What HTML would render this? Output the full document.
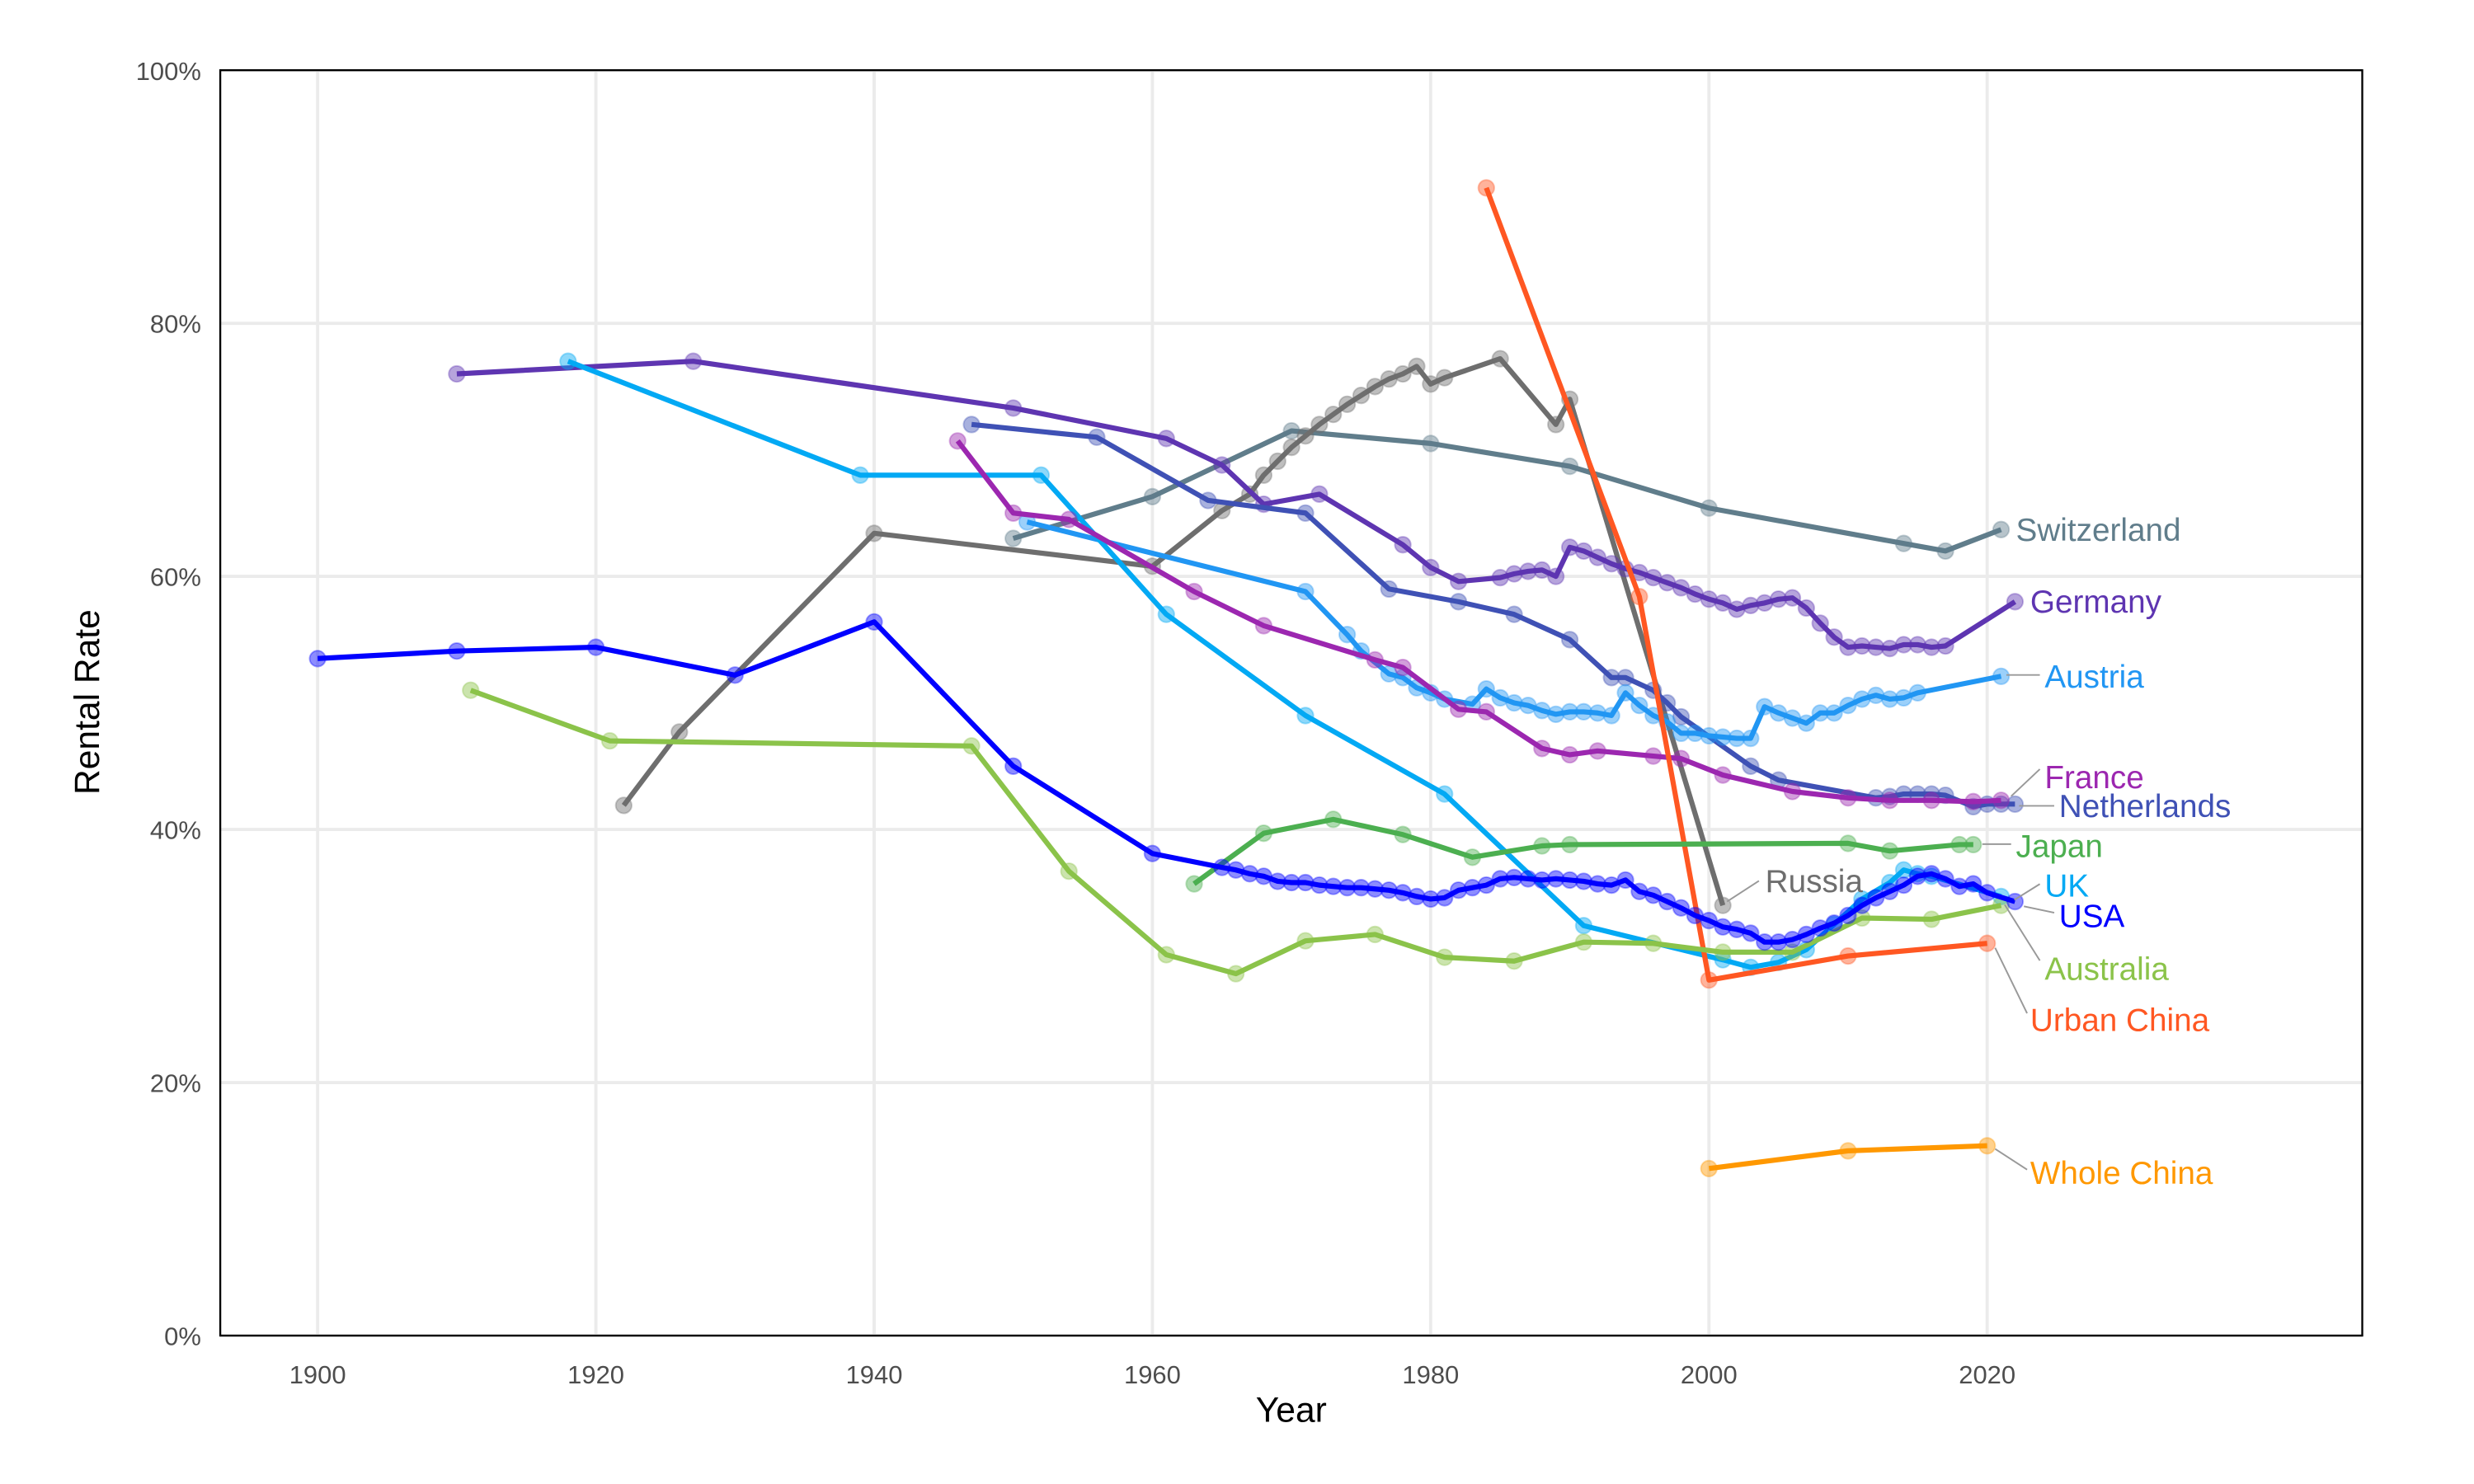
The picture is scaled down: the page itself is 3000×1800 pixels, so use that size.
<!DOCTYPE html>
<html><head><meta charset="utf-8"><style>
html,body{margin:0;padding:0;background:#fff}
svg{display:block;font-family:"Liberation Sans",Arial,sans-serif}
</style></head><body>
<svg id="chart" width="3000" height="1800" viewBox="0 0 1550 930" xmlns="http://www.w3.org/2000/svg">
<g id="grid"></g>
<g id="series"></g>
<rect x="138" y="44" width="1342" height="793" fill="none" stroke="#000" stroke-width="1.2"/>
<g id="axes"></g>
<text x="809" y="891" font-size="22" text-anchor="middle" fill="#000">Year</text>
<text transform="translate(62,440) rotate(-90)" font-size="22" text-anchor="middle" fill="#000">Rental Rate</text>
<g id="labels"></g>
</svg>
<script>
const xTicks=[1900,1920,1940,1960,1980,2000,2020];
const yTicks=[0,20,40,60,80,100];
const names=["Switzerland","Russia","Germany","Netherlands","Austria","UK","France","Urban China","Japan","Australia","USA","Whole China"];
const colors={"Switzerland":"#607d8b","Russia":"#6e6e6e","Germany":"#5e35b1","Netherlands":"#3f51b5","Austria":"#2196f3","UK":"#03a9f4","France":"#9c27b0","Urban China":"#ff5722","Japan":"#4caf50","Australia":"#8bc34a","USA":"#0000ff","Whole China":"#ff9800"};
const usaYears=[1900,1910,1920,1930,1940,1950,1960,1965,1966,1967,1968,1969,1970,1971,1972,1973,1974,1975,1976,1977,1978,1979,1980,1981,1982,1983,1984,1985,1986,1987,1988,1989,1990,1991,1992,1993,1994,1995,1996,1997,1998,1999,2000,2001,2002,2003,2004,2005,2006,2007,2008,2009,2010,2011,2012,2013,2014,2015,2016,2017,2018,2019,2020,2022];
const usaVals=[53.5,54.1,54.4,52.2,56.4,45,38.1,37,36.8,36.5,36.3,35.9,35.8,35.8,35.6,35.5,35.4,35.4,35.3,35.2,35.0,34.7,34.5,34.6,35.2,35.4,35.6,36.1,36.2,36.1,36.0,36.1,36.0,35.9,35.7,35.6,36.0,35.1,34.8,34.3,33.8,33.2,32.8,32.3,32.1,31.8,31.1,31.1,31.3,31.7,32.2,32.6,33.2,34.0,34.6,35.1,35.6,36.3,36.5,36.1,35.5,35.7,35.0,34.3];
const deuYears=[1910,1927,1950,1961,1965,1968,1972,1978,1980,1982,1985,1986,1987,1988,1989,1990,1991,1992,1993,1994,1995,1996,1997,1998,1999,2000,2001,2002,2003,2004,2005,2006,2007,2008,2009,2010,2011,2012,2013,2014,2015,2016,2017,2022];
const deuVals=[76,77,73.3,70.9,68.8,65.7,66.5,62.5,60.7,59.6,59.9,60.2,60.4,60.5,60.0,62.3,62.0,61.5,61.0,60.6,60.3,59.9,59.5,59.1,58.6,58.2,57.9,57.4,57.7,57.9,58.2,58.3,57.5,56.3,55.2,54.4,54.5,54.4,54.3,54.6,54.6,54.4,54.5,58];
const cheYears=[1950,1960,1970,1980,1990,2000,2014,2017,2021];
const cheVals=[63,66.3,71.5,70.5,68.7,65.4,62.6,62,63.7];
const autYears=[1951,1971,1974,1975,1977,1978,1979,1980,1981,1983,1984,1985,1986,1987,1988,1989,1990,1991,1992,1993,1994,1995,1996,1997,1998,1999,2000,2001,2002,2003,2004,2005,2006,2007,2008,2009,2010,2011,2012,2013,2014,2015,2021];
const autVals=[64.3,58.8,55.4,54.1,52.3,52.0,51.2,50.8,50.3,49.9,51.1,50.4,50.0,49.8,49.4,49.1,49.3,49.3,49.2,49.0,50.8,49.8,49.0,48.5,47.6,47.6,47.4,47.3,47.2,47.2,49.7,49.2,48.8,48.4,49.2,49.2,49.8,50.3,50.6,50.3,50.4,50.8,52.1];
const gbrYears=[1918,1939,1952,1961,1971,1981,1991,2001,2003,2005,2007,2009,2011,2013,2014,2015,2016,2021];
const gbrVals=[77,68,68,57,49,42.8,32.4,29.7,29.1,29.5,30.5,32.5,34.5,35.8,36.8,36.5,36.3,34.7];
const fraYears=[1946,1950,1954,1963,1968,1976,1978,1982,1984,1988,1990,1992,1996,1998,2001,2006,2010,2013,2016,2019,2021];
const fraVals=[70.7,65,64.5,58.8,56.1,53.4,52.8,49.5,49.3,46.4,45.9,46.2,45.8,45.6,44.3,43,42.5,42.3,42.3,42.2,42.3];
const nldYears=[1947,1956,1964,1971,1977,1982,1986,1990,1993,1994,1996,1997,1998,2003,2005,2012,2013,2014,2015,2016,2017,2019,2020,2021,2022];
const nldVals=[72,71,66,65,59,58,57,55,52,52,51,50,48.9,45,43.9,42.5,42.6,42.8,42.8,42.8,42.7,41.8,42,42,42];
const rusYears=[1922,1926,1940,1960,1965,1967,1968,1969,1970,1971,1972,1973,1974,1975,1976,1977,1978,1979,1980,1981,1985,1989,1990,2001];
const rusVals=[41.9,47.7,63.4,60.8,65.2,66.5,68,69.1,70.2,71.1,72,72.8,73.6,74.3,75.0,75.6,76.0,76.6,75.2,75.7,77.2,72,74,34];
const ucnYears=[1984,1995,2000,2010,2020];
const ucnVals=[90.7,58.4,28.1,30,31];
const wcnYears=[2000,2010,2020];
const wcnVals=[13.2,14.6,15];
const jpnYears=[1963,1968,1973,1978,1983,1988,1990,2010,2013,2018,2019];
const jpnVals=[35.7,39.7,40.8,39.6,37.8,38.7,38.8,38.9,38.3,38.8,38.8];
const ausYears=[1911,1921,1947,1954,1961,1966,1971,1976,1981,1986,1991,1996,2001,2006,2011,2016,2021];
const ausVals=[51,47,46.6,36.7,30.1,28.6,31.2,31.7,29.9,29.6,31.1,31.0,30.3,30.3,33,32.9,34];

const seriesYears={"Switzerland":cheYears,"Russia":rusYears,"Germany":deuYears,"Netherlands":nldYears,"Austria":autYears,"UK":gbrYears,"France":fraYears,"Urban China":ucnYears,"Japan":jpnYears,"Australia":ausYears,"USA":usaYears,"Whole China":wcnYears};
const seriesVals={"Switzerland":cheVals,"Russia":rusVals,"Germany":deuVals,"Netherlands":nldVals,"Austria":autVals,"UK":gbrVals,"France":fraVals,"Urban China":ucnVals,"Japan":jpnVals,"Australia":ausVals,"USA":usaVals,"Whole China":wcnVals};

const NS="http://www.w3.org/2000/svg";
const L=138,R=1480,T=44,B=837;
function xs(y){return 199+(y-1900)*(1046/120);}
function ys(v){return B-(v/100)*(B-T);}
function mk(tag,attrs,parent){const e=document.createElementNS(NS,tag);for(const k in attrs)e.setAttribute(k,attrs[k]);parent.appendChild(e);return e;}
const grid=document.getElementById('grid'),axes=document.getElementById('axes'),ser=document.getElementById('series'),lab=document.getElementById('labels');
xTicks.forEach(t=>{
 const l=mk('line',{x1:xs(t),x2:xs(t),y1:T,y2:B,stroke:'#ebebeb','stroke-width':2},grid);
 
 
 const tx=mk('text',{x:xs(t),y:B+30,'font-size':16,'text-anchor':'middle',fill:'#4d4d4d'},axes);
 tx.textContent=t;
 
 
});
yTicks.forEach(t=>{
 const l=mk('line',{x1:L,x2:R,y1:ys(t),y2:ys(t),stroke:'#ebebeb','stroke-width':2},grid);
 
 
 const tx=mk('text',{x:L-12,y:ys(t)+6,'font-size':16,'text-anchor':'end',fill:'#4d4d4d'},axes);
 tx.textContent=t+'%';
 
 
});
names.forEach(n=>{
 const yr=seriesYears[n],vs=seriesVals[n],c=colors[n];
 const g=mk('g',{},ser);
 
 
 const pts=yr.map((y,i)=>xs(y).toFixed(1)+','+ys(vs[i]).toFixed(1)).join(' ');
 const pl=mk('polyline',{points:pts,fill:'none',stroke:c,'stroke-width':3.2,'stroke-linejoin':'round'},g);
 
 
 yr.forEach((y,i)=>{
  const p=mk('circle',{cx:xs(y),cy:ys(vs[i]),r:5,fill:c,'fill-opacity':0.45,stroke:c,'stroke-opacity':0.35,'stroke-width':1},g);
  
  
 });
});
const labelPos=[["Switzerland",1263,332,null],["Germany",1272,377,null],["Austria",1281,424,[1257,423,1278,423]],["France",1281,487,[1260,499,1278,482]],["Netherlands",1290,505,[1265,505,1287,505]],["Japan",1263,530,[1242,529,1260,529]],["Russia",1106,552,[1082,565,1102,552]],["UK",1281,555,[1262,564,1278,554]],["USA",1290,574,[1268,568,1287,572]],["Australia",1281,607,[1256,567,1278,602]],["Urban China",1272,639,[1250,594,1270,635]],["Whole China",1272,735,[1250,720,1270,733]]];
labelPos.forEach(a=>{
 const n=a[0];
 if(a[3]){const s=mk('line',{x1:a[3][0],y1:a[3][1],x2:a[3][2],y2:a[3][3],stroke:'#999','stroke-width':1},lab);
  
  }
 const t=mk('text',{x:a[1],y:a[2]+7,'font-size':20,fill:colors[n]},lab);
 t.textContent=n;
 
 
});
</script>
</body></html>
